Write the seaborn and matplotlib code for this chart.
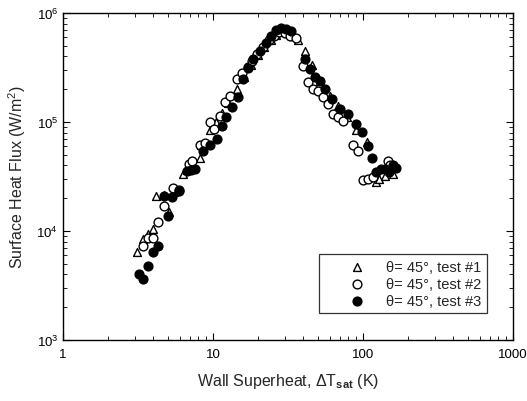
import matplotlib
matplotlib.use("Agg")
import matplotlib.pyplot as plt
import matplotlib.ticker as mticker
import seaborn as sns
import pandas as pd

# ---- data ----
t1_x = [3.1, 3.4, 3.7, 4.0, 4.2, 4.7, 5.1, 5.5, 6.3, 6.7, 8.2, 8.3, 9.6, 10.5,
        11.5, 12.5, 14.4, 16.0, 18.0, 20.0, 22.0, 24.5, 26.5, 28.7, 31.0, 34.0,
        37.0, 41.0, 46.0, 52.0, 60.0, 68.0, 78.0, 90.0, 106.0, 123.0, 128.0,
        140.0, 159.0]
t1_y = [6400, 8500, 9400, 10400, 21000, 21500, 15000, 23000, 33000, 36000,
        47000, 62000, 85000, 100000, 120000, 150000, 200000, 260000, 330000,
        410000, 490000, 570000, 630000, 670000, 650000, 610000, 560000, 450000,
        330000, 240000, 175000, 140000, 110000, 85000, 65000, 28000, 30000,
        32000, 33000]

t2_x = [3.4, 3.7, 4.0, 4.3, 4.7, 5.4, 5.9, 6.9, 7.3, 8.2, 8.8, 9.6, 10.2, 11.1,
        12.0, 13.0, 14.4, 15.6, 17.0, 18.2, 19.6, 21.5, 23.5, 25.5, 27.5, 30.0,
        32.5, 35.5, 40.0, 43.2, 46.4, 50.0, 54.0, 58.5, 63.0, 68.0, 73.8, 86.0,
        93.0, 100.0, 108.0, 117.0, 147.0, 152.0]
t2_y = [7300, 8600, 8700, 12000, 17000, 25000, 24000, 41000, 44000, 61000,
        64000, 99000, 87000, 114000, 152000, 175000, 248000, 280000, 320000,
        360000, 420000, 490000, 560000, 620000, 670000, 660000, 610000, 590000,
        329000, 231000, 201000, 194000, 169000, 146000, 119000, 110000, 103000,
        61000, 54000, 29600, 30000, 31000, 44000, 40000]

t3_x = [3.2, 3.4, 3.7, 4.0, 4.3, 4.7, 5.0, 5.3, 5.9, 6.7, 7.1, 7.6, 8.6, 9.5,
        10.6, 11.4, 12.3, 13.3, 14.7, 15.9, 17.2, 18.6, 20.5, 22.5, 24.5, 26.5,
        28.5, 30.5, 33.0, 41.0, 44.4, 48.0, 51.5, 56.0, 62.0, 70.0, 80.0, 90.5,
        98.0, 108.5, 114.0, 123.0, 132.0, 140.0, 150.0, 159.0, 165.0]
t3_y = [4000, 3650, 4800, 6400, 7300, 21000, 13800, 20500, 23500, 35700, 36000,
        37100, 54600, 62000, 69800, 92500, 110000, 136000, 169000, 248000,
        310000, 379000, 450000, 530000, 620000, 700000, 730000, 720000, 680000,
        379000, 306000, 260000, 240000, 200000, 163000, 132000, 119000, 96000,
        80400, 60700, 46400, 35000, 37000, 37100, 35000, 40000, 38000]

labels = ["θ= 45°, test #1", "θ= 45°, test #2", "θ= 45°, test #3"]

df1 = pd.DataFrame({"x": t1_x, "y": t1_y})
df2 = pd.DataFrame({"x": t2_x, "y": t2_y})
df3 = pd.DataFrame({"x": t3_x, "y": t3_y})

sns.set_theme(style="ticks")
plt.rcParams["font.family"] = ["Liberation Sans", "DejaVu Sans"]
plt.rcParams["mathtext.fontset"] = "custom"
plt.rcParams["mathtext.rm"] = "Liberation Sans"
plt.rcParams["mathtext.it"] = "Liberation Sans"
plt.rcParams["mathtext.bf"] = "Liberation Sans:bold"

fig = plt.figure(figsize=(5.27, 4.02), dpi=100)
ax = fig.add_axes([63 / 527, 1 - 341 / 402, 450 / 527, 327 / 402])

sns.scatterplot(data=df1, x="x", y="y", ax=ax, marker="^", s=32,
                facecolor="white", edgecolor="black", linewidth=1.0,
                label=labels[0], zorder=3)
sns.scatterplot(data=df2, x="x", y="y", ax=ax, marker="o", s=40,
                facecolor="white", edgecolor="black", linewidth=1.0,
                label=labels[1], zorder=4)
sns.scatterplot(data=df3, x="x", y="y", ax=ax, marker="o", s=40,
                facecolor="black", edgecolor="black", linewidth=1.0,
                label=labels[2], zorder=5)

ax.set_xscale("log")
ax.set_yscale("log")
ax.set_xlim(1, 1000)
ax.set_ylim(1e3, 1e6)
ax.xaxis.set_major_formatter(mticker.FuncFormatter(lambda v, p: f"{v:g}"))
ax.xaxis.set_minor_formatter(mticker.NullFormatter())

ax.tick_params(which="both", direction="in", top=True, right=True,
               colors="black", labelsize=9.5)
ax.tick_params(which="major", length=5, width=0.8)
ax.tick_params(which="minor", length=3, width=0.6)
ax.tick_params(axis="x", pad=6)
for sp in ax.spines.values():
    sp.set_color("black")
    sp.set_linewidth(1.0)

ax.set_xlabel("Wall Superheat, ΔT$_{\\mathbf{sat}}$ (K)", fontsize=11.5, labelpad=8)
ax.set_ylabel("Surface Heat Flux (W/m$^2$)", fontsize=11.5, labelpad=6)

leg = ax.legend(loc="upper right", bbox_to_anchor=(0.942, 0.263),
                frameon=True, fancybox=False, edgecolor="black",
                fontsize=10.5, handletextpad=-0.25, labelspacing=0.2,
                borderpad=0.4, handlelength=4.4, borderaxespad=0)
leg.get_frame().set_linewidth(0.9)

fig.savefig("out.png", dpi=100)
